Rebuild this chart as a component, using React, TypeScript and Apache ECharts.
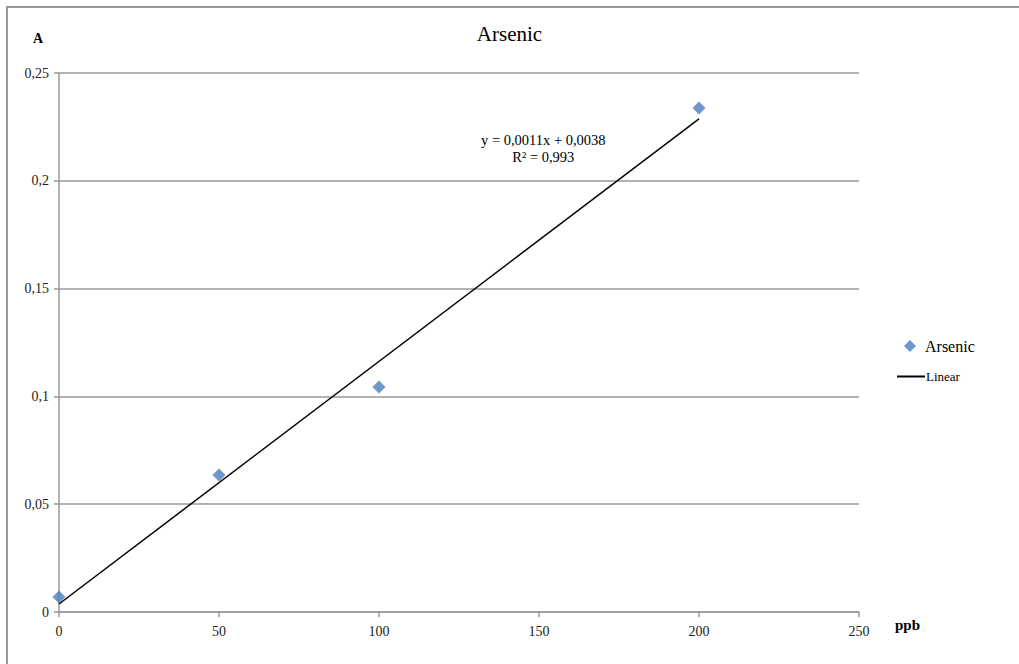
import React, { useEffect, useRef } from "react";
import * as echarts from "echarts";

const concentrations = [0, 50, 100, 200];
const absorbances = [0.007, 0.0635, 0.1044, 0.2338];
const xTicks = [0, 50, 100, 150, 200, 250];
const yTicks = [0, 0.05, 0.1, 0.15, 0.2, 0.25];
const equationLines = ["y = 0,0011x + 0,0038", "R² = 0,993"];

function leastSquares(xs: number[], ys: number[]) {
  const n = xs.length;
  const mx = xs.reduce((a, b) => a + b, 0) / n;
  const my = ys.reduce((a, b) => a + b, 0) / n;
  let sxy = 0;
  let sxx = 0;
  for (let i = 0; i < n; i++) {
    sxy += (xs[i] - mx) * (ys[i] - my);
    sxx += (xs[i] - mx) * (xs[i] - mx);
  }
  const slope = sxy / sxx;
  return { slope, intercept: my - slope * mx };
}

const FONT = "'Liberation Serif', 'DejaVu Serif', serif";
const comma = (v: number) => String(v).replace(".", ",");

export default function App() {
  const ref = useRef<HTMLDivElement>(null);
  useEffect(() => {
    document.body.style.margin = "0";
    document.body.style.overflow = "hidden";
    const chart = echarts.init(ref.current!, null, { renderer: "svg" });
    const fit = leastSquares(concentrations, absorbances);
    const xMin = concentrations[0];
    const xMax = concentrations[concentrations.length - 1];
    const trend = [
      [xMin, fit.intercept + fit.slope * xMin],
      [xMax, fit.intercept + fit.slope * xMax],
    ];
    chart.setOption({
      animation: false,
      backgroundColor: "#fff",
      title: {
        text: "Arsenic",
        left: "center",
        top: 18,
        textStyle: { fontFamily: FONT, fontSize: 21, fontWeight: "normal", color: "#000" },
      },
      grid: { left: 59, right: 160, top: 73, bottom: 52 },
      xAxis: {
        type: "value",
        min: xTicks[0],
        max: xTicks[xTicks.length - 1],
        interval: 50,
        name: "ppb",
        nameLocation: "end",
        nameGap: 36,
        nameTextStyle: { fontFamily: FONT, fontSize: 15, fontWeight: "bold", color: "#000", verticalAlign: "top", padding: [5, 0, 0, 0] },
        axisLine: { show: true, lineStyle: { color: "#999", width: 1.5 } },
        axisTick: { show: true, length: 5, lineStyle: { color: "#999", width: 1.5 } },
        axisLabel: { fontFamily: FONT, fontSize: 14, color: "#222", margin: 12, formatter: (v: number) => comma(v) },
        splitLine: { show: false },
      },
      yAxis: {
        type: "value",
        min: yTicks[0],
        max: yTicks[yTicks.length - 1],
        interval: 0.05,
        name: "A",
        nameLocation: "end",
        nameGap: 28,
        nameTextStyle: { fontFamily: FONT, fontSize: 14, fontWeight: "bold", color: "#000", align: "center", padding: [0, 42, 0, 0] },
        axisLine: { show: true, lineStyle: { color: "#999", width: 1.5 } },
        axisTick: { show: true, length: 5, lineStyle: { color: "#999", width: 1.5 } },
        axisLabel: { fontFamily: FONT, fontSize: 14, color: "#222", margin: 10, formatter: (v: number) => comma(Number(v.toFixed(2))) },
        splitLine: { show: true, lineStyle: { color: "#999", width: 1.5 } },
      },
      legend: [
        {
          orient: "vertical",
          left: 899,
          top: 333,
          itemWidth: 12,
          itemHeight: 12,
          data: [{ name: "Arsenic", icon: "diamond" }],
          textStyle: { fontFamily: FONT, fontSize: 16, color: "#000", padding: [0, 0, 0, 4] },
        },
        {
          orient: "vertical",
          left: 892,
          top: 365,
          itemWidth: 28,
          itemHeight: 2,
          itemGap: 0,
          data: [{ name: "Linear", icon: "rect", itemStyle: { color: "#000" } }],
          textStyle: { fontFamily: FONT, fontSize: 13, color: "#000", padding: [0, 0, 0, -4] },
        },
      ],
      graphic: [
        {
          type: "rect",
          silent: true,
          shape: { x: 7, y: 7, width: 1200, height: 800 },
          style: { fill: "none", stroke: "#999", lineWidth: 2 },
        },
        {
          type: "text",
          left: 481,
          top: 131,
          style: {
            text: equationLines.join("\n"),
            fontFamily: FONT,
            fontSize: 14.5,
            lineHeight: 17,
            fill: "#000",
            textAlign: "center",
          },
        },
      ],
      series: [
        {
          name: "Linear",
          type: "line",
          data: trend,
          symbol: "none",
          lineStyle: { color: "#000", width: 1.5 },
          itemStyle: { color: "#000" },
          z: 2,
        },
        {
          name: "Arsenic",
          type: "scatter",
          data: concentrations.map((x, i) => [x, absorbances[i]]),
          symbol: "diamond",
          symbolSize: 13,
          itemStyle: { color: "#4a7ebb" },
          z: 3,
        },
      ],
    });
    return () => chart.dispose();
  }, []);
  return <div ref={ref} style={{ width: 1019, height: 664, position: "absolute", left: 0, top: 0 }} />;
}
